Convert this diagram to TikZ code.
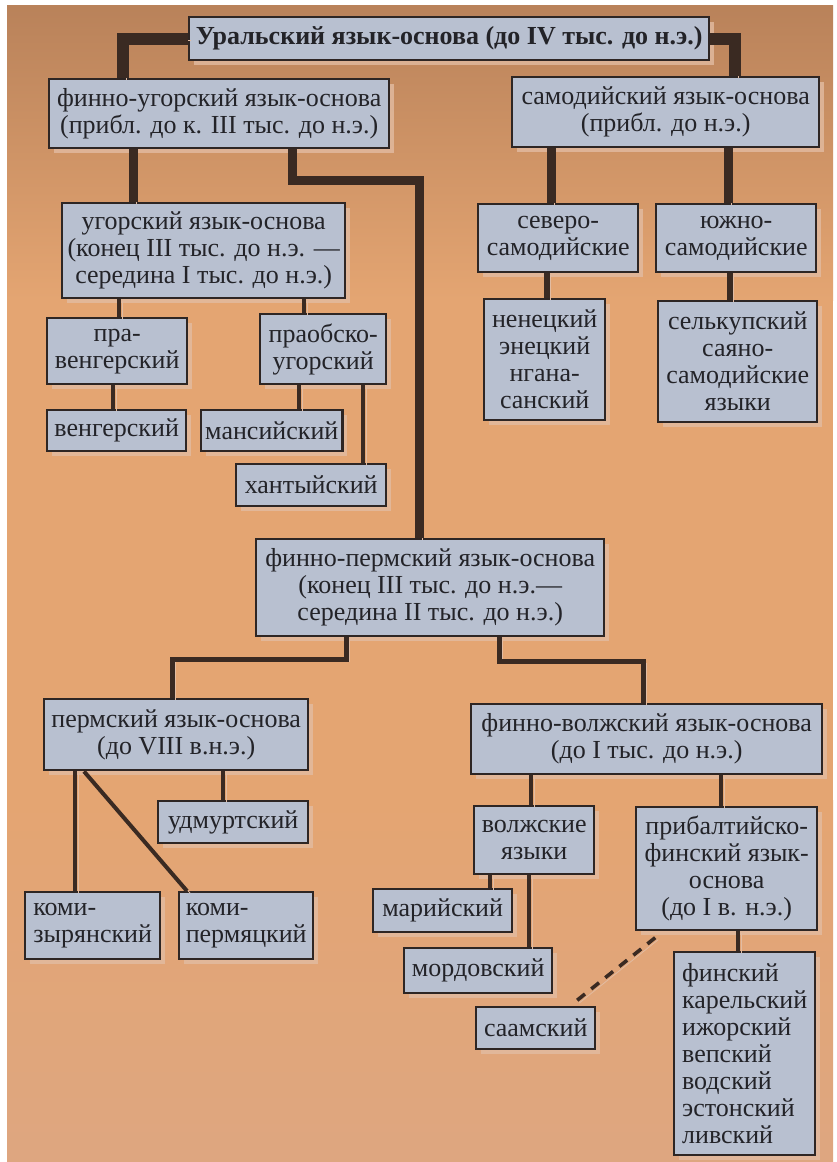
\documentclass[tikz,border=0pt]{standalone}
\usepackage{fontspec}
\setmainfont{Liberation Serif}
\usetikzlibrary{calc,shadows}
\definecolor{bgtop}{HTML}{B9825A}
\definecolor{bgmid}{HTML}{E4A572}
\definecolor{bgbot}{HTML}{DEA680}
\definecolor{boxfill}{HTML}{B8C0D0}
\definecolor{boxline}{HTML}{2E2624}
\definecolor{linec}{HTML}{3A2A22}
\definecolor{shade}{HTML}{E2BCA2}
\definecolor{ink}{HTML}{232328}
\begin{document}
\begin{tikzpicture}[x=0.5pt, y=-0.5pt, font=\fontsize{13}{13.5}\selectfont, line join=miter, line cap=butt,
	box/.style={draw=boxline, fill=boxfill, line width=1.2pt, text=ink, inner sep=2pt, align=center, anchor=north west,
		drop shadow={shadow xshift=2.5pt, shadow yshift=-2.5pt, fill=shade, opacity=.8}},
	link/.style={draw=linec, preaction={draw=shade, transform canvas={xshift=1.5pt, yshift=-1pt}}}]
	\useasboundingbox (0,0) rectangle (836,1162);
	\fill[bgmid] (7,5) rectangle (833,1162);
	\shade[top color=bgtop, bottom color=bgmid] (7,5) rectangle (833,300);
	\shade[top color=bgmid, bottom color=bgbot] (7,800) rectangle (833,1162);
	% boxes
	\node[box, font=\fontsize{13}{14}\selectfont\bfseries, minimum width=260pt, minimum height=21.5pt] (ural) at (188,16) {Уральский язык-основа (до IV тыс. до н.э.)};
	\node[box, minimum width=170pt, minimum height=34.5pt] (fu) at (48,78) {финно-угорский язык-основа\\(прибл. до к. III тыс. до н.э.)};
	\node[box, minimum width=153.5pt, minimum height=35pt] (sam) at (511,76) {самодийский язык-основа\\(прибл. до н.э.)};
	\node[box, minimum width=141.5pt, minimum height=47.5pt] (ug) at (61,202) {угорский язык-основа\\(конец III тыс. до н.э. —\\середина I тыс. до н.э.)};
	\node[box, minimum width=80pt, minimum height=34pt] (nsam) at (477,203) {северо-\\самодийские};
	\node[box, minimum width=80pt, minimum height=34pt] (ssam) at (655,203) {южно-\\самодийские};
	\node[box, minimum width=60.5pt, minimum height=60.5pt] (nenets) at (483,298) {ненецкий\\энецкий\\нгана-\\санский};
	\node[box, minimum width=79.5pt, minimum height=60.5pt] (selkup) at (657,300) {селькупский\\саяно-\\самодийские\\языки};
	\node[box, minimum width=70pt, minimum height=33pt] (prav) at (46,317) {пра-\\венгерский};
	\node[box, minimum width=63pt, minimum height=35pt] (praob) at (259,313) {праобско-\\угорский};
	\node[box, minimum width=69.5pt, minimum height=20.5pt] (veng) at (46,409) {венгерский};
	\node[box, minimum width=69.5pt, minimum height=20.5pt] (mans) at (200,409) {мансийский};
	\node[box, minimum width=75pt, minimum height=21pt] (khant) at (235,463) {хантыйский};
	\node[box, minimum width=174pt, minimum height=48.5pt] (fp) at (255,538) {финно-пермский язык-основа\\(конец III тыс. до н.э.—\\середина II тыс. до н.э.)};
	\node[box, minimum width=132pt, minimum height=35.5pt] (perm) at (43,698) {пермский язык-основа\\(до VIII в.н.э.)};
	\node[box, minimum width=75pt, minimum height=21pt] (udm) at (157,800) {удмуртский};
	\node[box, align=left, minimum width=67.5pt, minimum height=33.5pt] (komiz) at (24,891) {коми-\\зырянский};
	\node[box, align=left, minimum width=67pt, minimum height=33.5pt] (komip) at (178,891) {коми-\\пермяцкий};
	\node[box, minimum width=175.5pt, minimum height=35pt] (fv) at (470,703) {финно-волжский язык-основа\\(до I тыс. до н.э.)};
	\node[box, minimum width=60pt, minimum height=34pt] (volzh) at (473,805) {волжские\\языки};
	\node[box, minimum width=90.5pt, minimum height=61.5pt] (prib) at (635,806) {прибалтийско-\\финский язык-\\основа\\(до I в. н.э.)};
	\node[box, minimum width=69.5pt, minimum height=21.5pt] (mari) at (372,888) {марийский};
	\node[box, minimum width=74pt, minimum height=22.5pt] (mord) at (403,947) {мордовский};
	\node[box, minimum width=59.5pt, minimum height=21pt] (saam) at (475,1006) {саамский};
	\node[box, align=left, minimum width=70.5pt, minimum height=101.5pt] (fin) at (673,951) {финский\\карельский\\ижорский\\вепский\\водский\\эстонский\\ливский};
	% connectors
	\draw[link, line width=6pt] (ural.west) -| ($(fu.north west)+(75,0)$);
	\draw[link, line width=6pt] (ural.east) -| ($(sam.north west)+(224,0)$);
	\draw[link, line width=4.5pt] ($(fu.south west)+(244,0)$) -- ++(0,31) -| ($(fp.north west)+(164,0)$);
	\foreach \a/\da/\b/\db in {fu/85/ug/72, sam/40/nsam/74, sam/217/ssam/73}
	\draw[link, line width=4.5pt] ($(\a.south west)+(\da,0)$) -- ($(\b.north west)+(\db,0)$);
	\foreach \a/\da/\b/\db in {nsam/70/nenets/64, ssam/75/selkup/73}
	\draw[link, line width=3.3pt] ($(\a.south west)+(\da,0)$) -- ($(\b.north west)+(\db,0)$);
	\draw[link, line width=2.5pt] ($(fp.south west)+(91,0)$) -- ++(0,22) -| ($(perm.north west)+(129,0)$);
	\draw[link, line width=2.5pt] ($(fp.south west)+(244,0)$) -- ++(0,24) -| ($(fv.north west)+(173,0)$);
	\foreach \a/\da/\b/\db in {ug/58/prav/73, ug/243/praob/45, prav/67/veng/67, praob/40/mans/99, praob/104/khant/128,
		perm/180/udm/66, perm/32/komiz/51, perm/41/komip/9, fv/61/volzh/58, fv/251/prib/86,
		volzh/17/mari/118, volzh/56/mord/126, prib/103/fin/65}
	\draw[link, line width=2pt] ($(\a.south west)+(\da,0)$) -- ($(\b.north west)+(\db,0)$);
	\draw[link, line width=1.8pt, dash pattern=on 5pt off 4pt, shorten <=5pt, shorten >=4pt] ($(prib.south west)+(28,0)$) -- ($(saam.north west)+(95,0)$);
\end{tikzpicture}
\end{document}
